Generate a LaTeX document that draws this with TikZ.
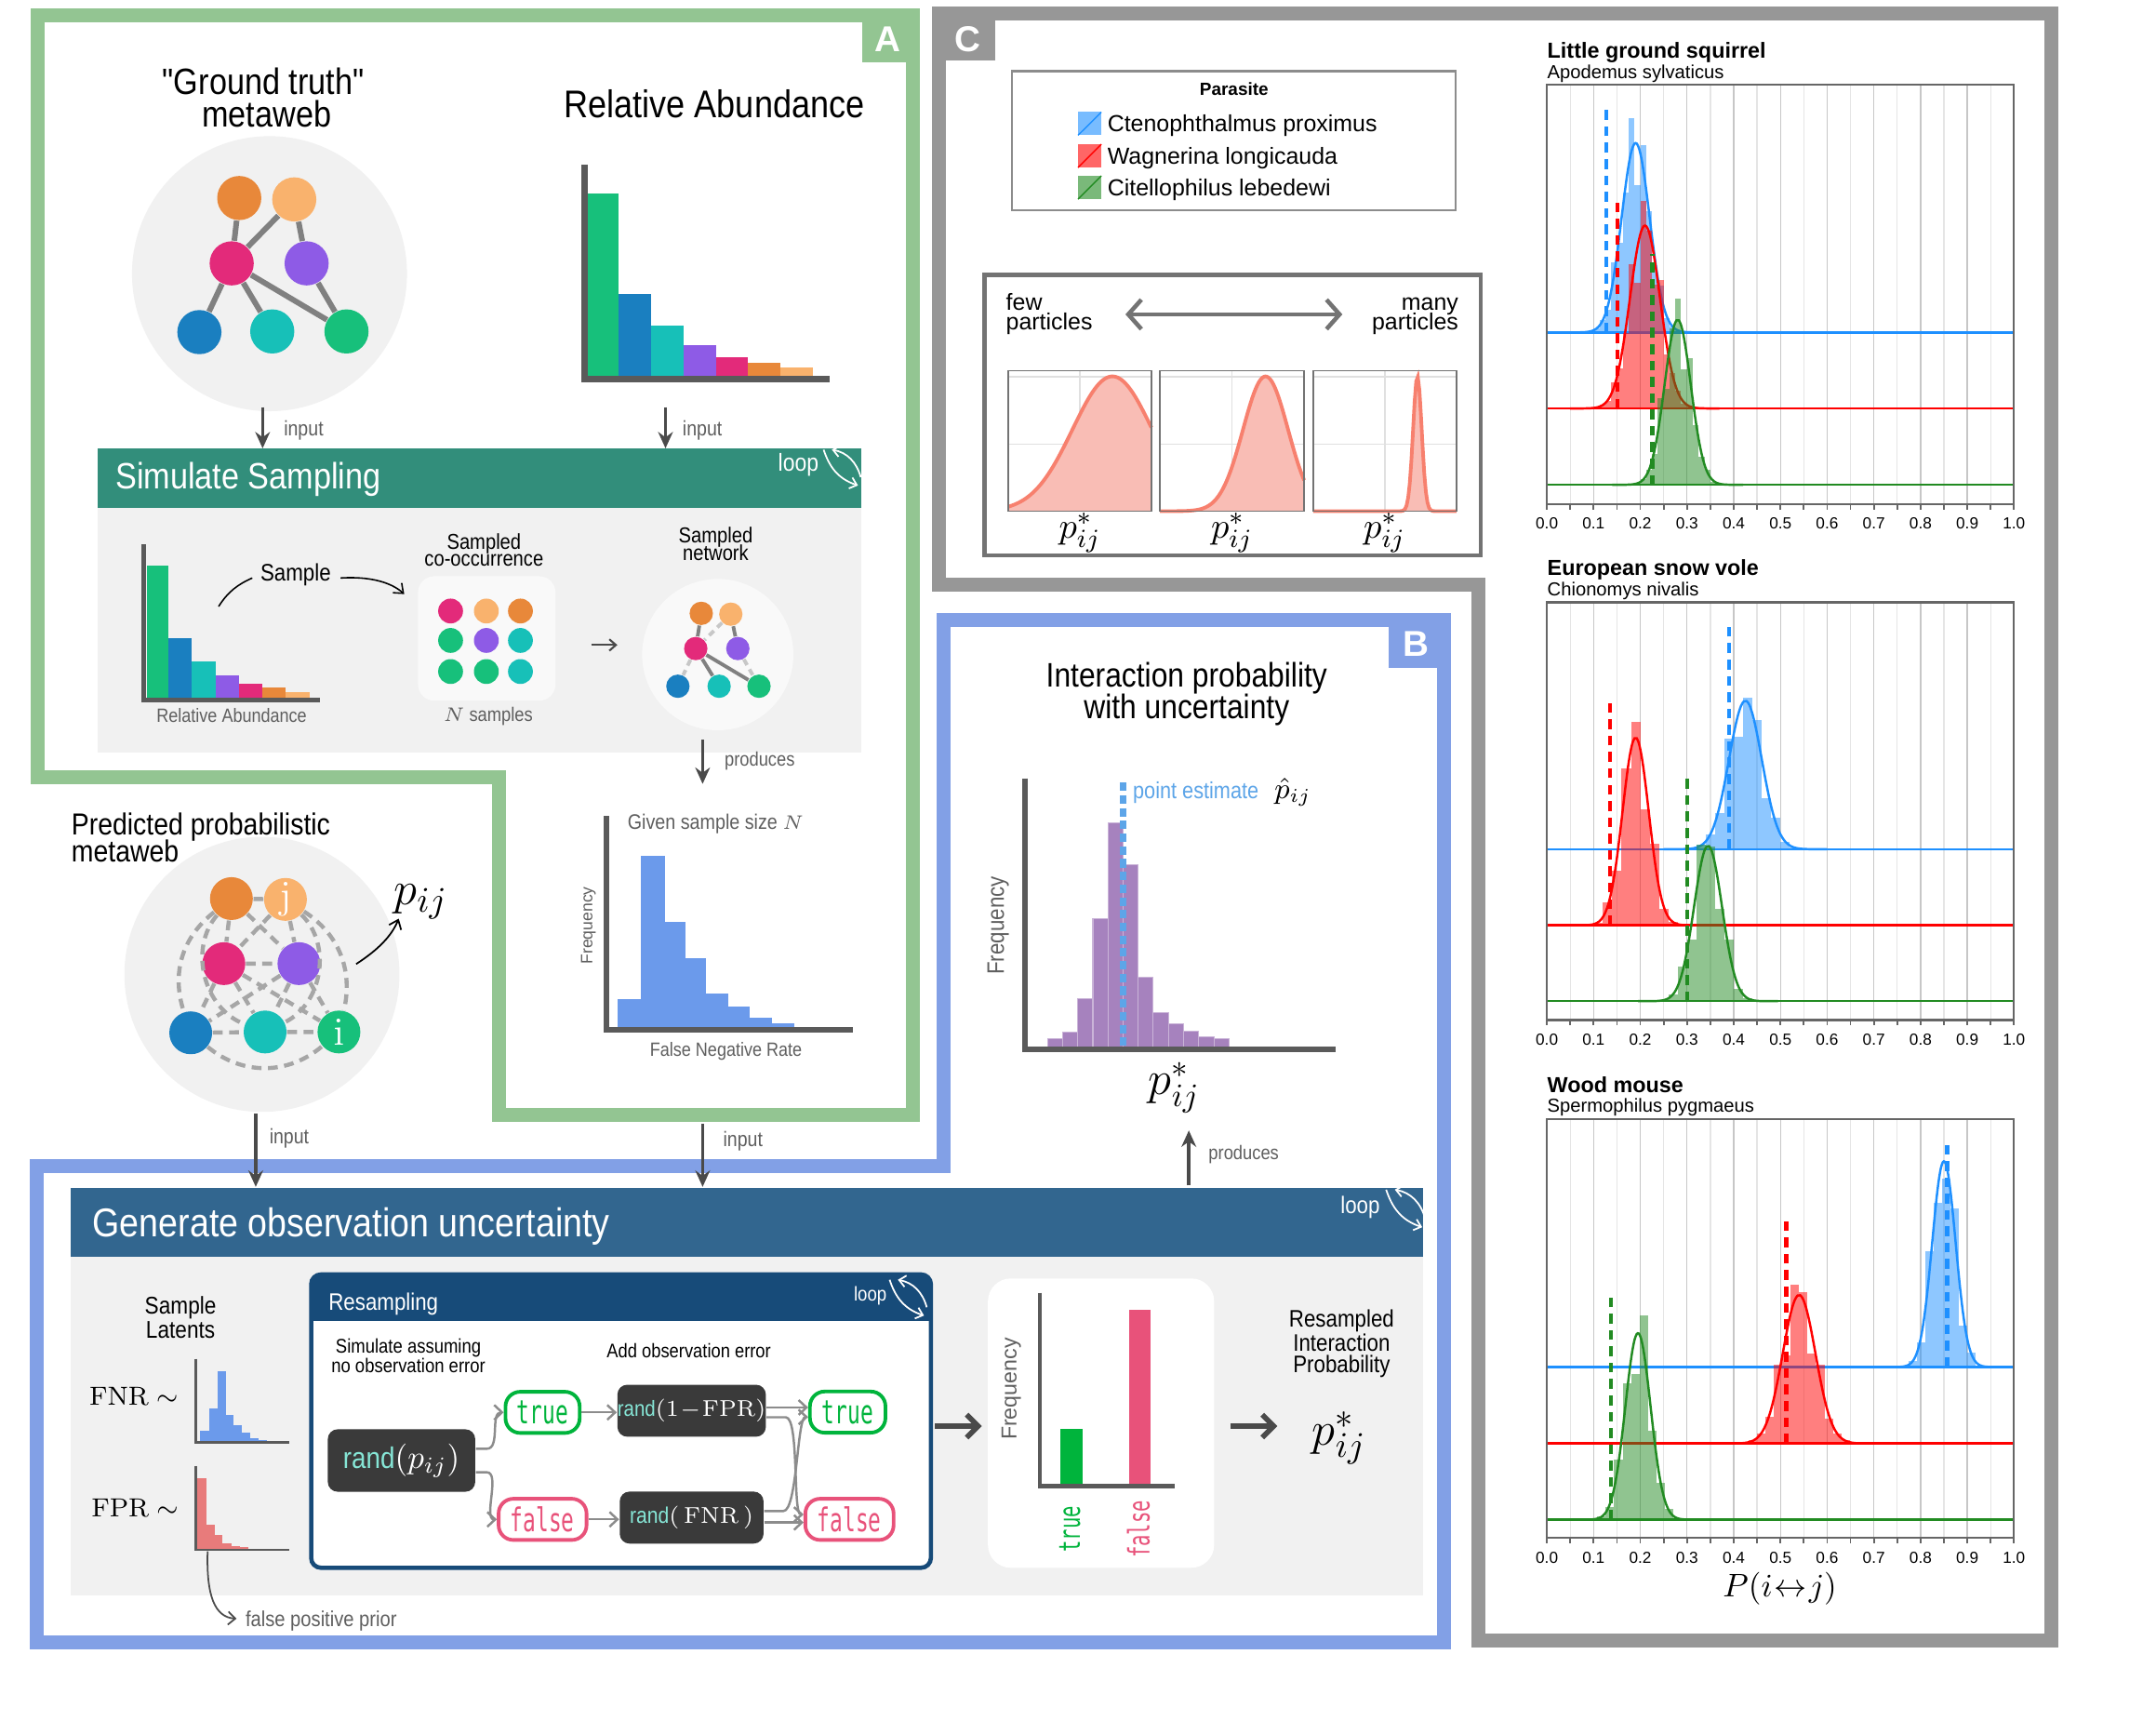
\documentclass[tikz,border=0pt]{standalone}
\usepackage[no-math]{fontspec}
\setmainfont{Liberation Sans}
\newfontfamily\cf[FakeStretch=0.87]{Liberation Sans}
\newfontfamily\hv{Liberation Sans}
\newfontfamily\mono[FakeStretch=0.65]{DejaVu Sans Mono}
\usetikzlibrary{arrows.meta}
\newcommand\fsz[1]{\fontsize{#1}{#1}\selectfont}
\definecolor{frA}{HTML}{93C592}
\definecolor{frB}{HTML}{82A0E6}
\definecolor{frC}{HTML}{979797}
\definecolor{simb}{HTML}{328E7B}
\definecolor{genb}{HTML}{32668F}
\definecolor{resb}{HTML}{174B79}
\definecolor{lg}{HTML}{F1F1F1}
\definecolor{lgw}{HTML}{F9F9F9}
\definecolor{axg}{HTML}{5A5A5A}
\definecolor{arg}{HTML}{4A4A4A}
\definecolor{txg}{HTML}{5F5F5F}
\definecolor{cOr}{HTML}{E8883A}
\definecolor{cLo}{HTML}{F9B26D}
\definecolor{cPk}{HTML}{E32A7A}
\definecolor{cPu}{HTML}{8E5BE6}
\definecolor{cBl}{HTML}{1A7FC0}
\definecolor{cTe}{HTML}{17C0B8}
\definecolor{cGr}{HTML}{17C07B}
\definecolor{hBlue}{HTML}{6B9AEB}
\definecolor{hRed}{HTML}{E87B7B}
\definecolor{hPur}{HTML}{A682BE}
\definecolor{ptB}{HTML}{5DA5E8}
\definecolor{tGr}{HTML}{00B43C}
\definecolor{tPk}{HTML}{E8527A}
\definecolor{mint}{HTML}{86E6D6}
\definecolor{dbox}{HTML}{3A3A3A}
\definecolor{lBlue}{HTML}{1E90FF}
\definecolor{lRed}{HTML}{FF0000}
\definecolor{lGreen}{HTML}{228B22}
\definecolor{sal}{HTML}{F7806E}
\definecolor{salf}{HTML}{F9BDB5}
\definecolor{edg}{HTML}{808080}
\definecolor{dsh}{HTML}{A6A6A6}
\def\px{1125}
\def\pw{339.7}
\def\rbw{0.0125}
\newcommand\loopsym[3]{%
  \begin{scope}[shift={(#1,#2)},scale=#3]
    \draw[white,line width=0.5pt,-{Straight Barb[length=2pt,width=3.5pt]}] (2,1) .. controls (6,13) and (12,22) .. (27,27);
    \draw[white,line width=0.5pt,-{Straight Barb[length=2pt,width=3.5pt]}] (29,21) .. controls (26,10) and (19,3) .. (8,1);
  \end{scope}}
\newcommand\ridge[7]{%
  \pgfmathtruncatemacro\kmin{floor((#2-3.5*#3)/\rbw)}%
  \pgfmathtruncatemacro\kmax{floor((#2+3.5*#3)/\rbw)}%
  \foreach \k in {\kmin,...,\kmax}{%
    \pgfmathsetmacro\rvv{#4*exp(0-0.5*(((\k+0.5)*\rbw-#2)/#3)^2)*(1+0.22*sin(\k*137.5))}%
    \fill[#5,fill opacity=0.5] ({\px+\k*\rbw*\pw},#1) rectangle ({\px+(\k+1)*\rbw*\pw},{#1-\rvv});
  }%
  \pgfmathsetmacro\rgA{max(0,#2-5*#3)}%
  \pgfmathsetmacro\rgB{min(1,#2+5*#3)}%
  \draw[#5,line width=0.7pt] (\px,#1) -- ({\px+\pw},#1);
  \draw[#5,line width=0.7pt] plot[domain=\rgA:\rgB,samples=60,smooth] ({\px+\x*\pw},{#1-#4*exp(0-0.5*((\x-#2)/#3)^2)});
  \draw[#5,line width=1.3pt,dash pattern=on 3pt off 2pt] ({\px+#6*\pw},#1) -- ({\px+#6*\pw},#7);
}
\newcommand\rgrid[2]{%
  \foreach \i in {1,...,19}{%
    \pgfmathtruncatemacro\gcol{mod(\i,2)==0 ? 22 : 10}%
    \draw[black!\gcol,line width=0.4pt] ({\px+\i*0.05*\pw},#1) -- ({\px+\i*0.05*\pw},#2);
  }}
\newcommand\raxis[4]{%
  \draw[black!60,line width=0.6pt] (\px,#1) rectangle ({\px+\pw},#2);
  \foreach \i in {0,...,20}{%
    \draw[black!60,line width=0.5pt] ({\px+\i*0.05*\pw},#2) -- ({\px+\i*0.05*\pw},{#2+4});
  }
  \foreach \i/\l in {0/0.0,1/0.1,2/0.2,3/0.3,4/0.4,5/0.5,6/0.6,7/0.7,8/0.8,9/0.9,10/1.0}{%
    \node[tb,font=\hv\fsz{4.9}] (#4\i) at ({\px+\i*0.1*\pw},#3) {\l};
  }}
\newcommand\cplot[4]{%
  \draw[black!12,line width=0.4pt] ({(#1+#2)/2},269.5) -- ({(#1+#2)/2},371.7) (#1,323) -- (#2,323) (#1,274) -- (#2,274);
  \fill[salf] (#1,371.7) -- plot[domain=0:1,samples=90] ({#1+\x*(#2-#1)},{371.7-98*exp(0-min(0.5*((\x-#3)/#4)^2,30))}) -- (#2,371.7) -- cycle;
  \draw[sal,line width=1.1pt] plot[domain=0:1,samples=90] ({#1+\x*(#2-#1)},{371.7-98*exp(0-min(0.5*((\x-#3)/#4)^2,30))});
  \draw[black!55,line width=0.5pt] (#1,269.5) rectangle (#2,371.7);}
\begin{document}
\begin{tikzpicture}[x=0.014783cm,y=-0.014783cm,
  tb/.style={anchor=base,inner sep=0pt,outer sep=0pt},
  tw/.style={anchor=base west,inner sep=0pt,outer sep=0pt},
  te/.style={anchor=base east,inner sep=0pt,outer sep=0pt},
  band/.style={line width=4.3pt,line join=miter},
  nd/.style={circle,inner sep=0pt,minimum size=#1},
  arr/.style={draw=arg,line width=1pt,-{Stealth[length=5pt,width=4.5pt]}},
  cn/.style={draw=black!45,line width=0.7pt,-{Straight Barb[length=2.4pt,width=4.5pt]}},
  gedge/.style={draw=edg,line width=1.7pt},
  sedge/.style={draw=edg,line width=1.1pt},
  sdash/.style={draw=black!22,line width=1.1pt,dash pattern=on 2pt off 1.5pt},
  pdash/.style={draw=dsh,line width=1.25pt,dash pattern=on 3pt off 2pt},
  lbl/.style={text=txg},
  dk/.style={fill=dbox,rounded corners=3pt,inner sep=0pt},
  tf/.style={fill=white,draw=#1,text=#1,line width=1.1pt,rounded corners=4.5pt,inner sep=0pt,minimum height=12.6pt,font=\mono\fsz{10}},
]
\useasboundingbox (0,0) rectangle (1568,1251);
\fill[white] (0,0) rectangle (1568,1251);

%% ---------- frames
\draw[frA,band] (27.5,11) -- (664,11) -- (664,811) -- (363,811) -- (363,565) -- (27.5,565) -- cycle;
\fill[frA] (627,11) rectangle (664,45);
\node[font=\hv\bfseries\fsz{11},text=white] (tabA) at (645.5,28.5) {A};
\draw[frB,band] (686,451) -- (1050,451) -- (1050,1194) -- (27,1194) -- (27,848) -- (686,848) -- cycle;
\fill[frB] (1010,451) rectangle (1050,486);
\node[font=\hv\bfseries\fsz{11},text=white] (tabB) at (1030,468.5) {B};
\draw[frC,band] (683,10) -- (1492,10) -- (1492,1193) -- (1075,1193) -- (1075,425) -- (683,425) -- cycle;
\fill[frC] (683,10) rectangle (724,44);
\node[font=\hv\bfseries\fsz{11},text=white] (tabC) at (704,28.5) {C};

%% ---------- Panel A : ground truth
\fill[lg] (196,199) circle[radius=100];
\node[tb,font=\cf\fsz{11.2}] (gtA) at (191.5,68.8) {"Ground truth"};
\node[tb,font=\cf\fsz{11.2}] (gtB) at (194,92) {metaweb};
\node[nd=13.5pt,fill=cOr] (g1) at (174,144) {};
\node[nd=13.5pt,fill=cLo] (g2) at (214,145) {};
\node[nd=13.5pt,fill=cPk] (g3) at (168.5,191.5) {};
\node[nd=13.5pt,fill=cPu] (g4) at (223,191.5) {};
\node[nd=13.5pt,fill=cBl] (g5) at (145,241.5) {};
\node[nd=13.5pt,fill=cTe] (g6) at (198,241) {};
\node[nd=13.5pt,fill=cGr] (g7) at (252,241) {};
\draw[gedge] (g1)--(g3) (g2)--(g3) (g2)--(g4) (g3)--(g5) (g3)--(g6) (g3)--(g7) (g4)--(g7);

%% relative abundance
\node[tb,font=\cf\fsz{11.8}] (raT) at (519.5,85.3) {Relative Abundance};
\foreach \a/\b/\h/\c in {427.6/450/141/cGr,450/473.6/214/cBl,473.6/497.3/237/cTe,497.3/521/251/cPu,521/544/260/cPk,544/567.7/264/cOr,567.7/591.3/267.5/cLo}
  \fill[\c] (\a,\h) rectangle (\b,274);
\draw[axg,line width=1.9pt] (425.3,119.6) -- (425.3,275.6) -- (603.5,275.6);

%% simulate sampling band
\fill[simb] (71,326) rectangle (626.5,369.5);
\fill[lg] (71,369.5) rectangle (626.5,547);
\node[tw,font=\cf\fsz{11.2},text=white] (ssT) at (84,355.5) {Simulate Sampling};
\node[tw,font=\cf\fsz{7.5},text=white] (ssL) at (566,342.8) {loop};
\loopsym{597}{326}{1}

\coordinate (i1a) at (191,296); \coordinate (i1b) at (191,326);
\draw[arr] (i1a) -- (i1b);
\node[tw,font=\cf\fsz{6.4},lbl] (i1l) at (206.5,317) {input};
\coordinate (i2a) at (484,296); \coordinate (i2b) at (484,326);
\draw[arr] (i2a) -- (i2b);
\node[tw,font=\cf\fsz{6.4},lbl] (i2l) at (496.5,317) {input};

\foreach \a/\b/\h/\c in {106.6/122.5/411/cGr,122.5/139.5/464/cBl,139.5/156.6/481/cTe,156.6/173.7/491/cPu,173.7/190.8/497.5/cPk,190.8/207.7/500/cOr,207.7/225/503/cLo}
  \fill[\c] (\a,\h) rectangle (\b,508);
\draw[axg,line width=1.3pt] (104.5,396) -- (104.5,509) -- (233,509);
\node[tb,font=\cf\fsz{5.9},lbl] (raS) at (168.5,525.5) {Relative Abundance};
\node[tb,font=\cf\fsz{7.3}] (smp) at (215,422.4) {Sample};
\coordinate (smpA) at (159,441);
\draw[black,line width=0.45pt] (smpA) .. controls (166,430) and (173,425) .. ([xshift=-2.5pt,yshift=-1pt]smp.west);
\coordinate (smpB) at (294,432);
\draw[black,line width=0.45pt,-{Straight Barb[length=2.5pt,width=4pt]}] ([xshift=3pt,yshift=-1pt]smp.east) .. controls (268,419) and (284,423) .. (smpB);

\node[tb,font=\cf\fsz{6.6}] (coT1) at (352,399.2) {Sampled};
\node[tb,font=\cf\fsz{6.6}] (coT2) at (352,411.6) {co-occurrence};
\fill[lgw,rounded corners=5pt] (304,419) rectangle (404,509.5);
\foreach \xx/\yy/\cc/\nn in {327.7/444.3/cPk/1,353.7/444.3/cLo/2,378.5/444.3/cOr/3,327.7/465.7/cGr/4,353.7/465.7/cPu/5,378.5/465.7/cTe/6,327.7/488.3/cGr/7,353.7/488.3/cGr/8,378.5/488.3/cTe/9}
  \node[nd=7.6pt,fill=\cc] (co\nn) at (\xx,\yy) {};
\node[tb,font=\cf\fsz{6},lbl] (nS) at (355,524.4) {$N$ samples};
\coordinate (m1) at (430,469); \coordinate (m2) at (449,469);
\draw[arg,line width=0.6pt,-{Straight Barb[length=2pt,width=3.5pt]}] (m1) -- (m2);

\node[tb,font=\cf\fsz{6.6}] (snT1) at (520.5,395) {Sampled};
\node[tb,font=\cf\fsz{6.6}] (snT2) at (520.5,407.8) {network};
\fill[lgw] (522,476) circle[radius=55];
\node[nd=7.15pt,fill=cOr] (s1) at (510,446) {};
\node[nd=7.15pt,fill=cLo] (s2) at (531.5,446.6) {};
\node[nd=7.15pt,fill=cPk] (s3) at (506,471.6) {};
\node[nd=7.15pt,fill=cPu] (s4) at (536.6,471.6) {};
\node[nd=7.15pt,fill=cBl] (s5) at (493,499) {};
\node[nd=7.15pt,fill=cTe] (s6) at (523,499) {};
\node[nd=7.15pt,fill=cGr] (s7) at (552,499) {};
\draw[sedge] (s1)--(s3) (s2)--(s4) (s3)--(s6) (s3)--(s7);
\draw[sdash] (s2)--(s3) (s3)--(s5) (s4)--(s7);

\coordinate (pr1a) at (511,538); \coordinate (pr1b) at (511,570);
\draw[arr] (pr1a) -- (pr1b);
\node[tw,font=\cf\fsz{6},lbl] (pr1l) at (527,557) {produces};

%% FNR histogram
\node[tb,font=\cf\fsz{6.45},lbl] (gss) at (520.5,603.3) {Given sample size $N$};
\foreach \a/\b/\h in {449/466/726.7,466/483.6/622,483.6/498.6/670.5,498.6/513.5/697,513.5/529.4/722.5,529.4/545.5/732,545.5/561.5/740,561.5/577.8/744.3}
  \fill[hBlue] (\a,\h) rectangle (\b,747.5);
\draw[axg,line width=1.8pt] (441,593.5) -- (441,749) -- (620,749);
\node[rotate=90,font=\hv\fsz{5},lbl] (fqA) at (428,673) {Frequency};
\node[tb,font=\cf\fsz{5.9},lbl] (fnrT) at (528,768) {False Negative Rate};

%% predicted metaweb
\fill[lg] (190.5,708.5) circle[radius=100];
\node[tw,font=\cf\fsz{9.3}] (pmA) at (52,607) {Predicted probabilistic};
\node[tw,font=\cf\fsz{9.3}] (pmB) at (52,626.5) {metaweb};
\node[nd=13.1pt,fill=cOr] (p1) at (168.3,653.4) {};
\node[nd=13.1pt,fill=cLo,text=white,font=\fsz{12}] (p2) at (207.6,654) {$\mathrm{j}$};
\node[nd=13.1pt,fill=cPk] (p3) at (162.8,700.7) {};
\node[nd=13.1pt,fill=cPu] (p4) at (217.4,700.7) {};
\node[nd=13.1pt,fill=cBl] (p5) at (138.7,751) {};
\node[nd=13.1pt,fill=cTe] (p6) at (192.8,750.4) {};
\node[nd=13.1pt,fill=cGr,text=white,font=\fsz{12}] (p7) at (246.5,750.4) {$\mathrm{i}$};
\draw[pdash] (p1)--(p2) (p1)--(p3) (p1)--(p4) (p2)--(p3) (p2)--(p4) (p3)--(p4) (p3)--(p6) (p3)--(p7) (p4)--(p5) (p4)--(p6) (p5)--(p6) (p6)--(p7) (p3)--(p5) (p4)--(p7);
\draw[pdash] (p1) to[bend right=35] (p5);
\draw[pdash] (p2) to[bend left=35] (p7);
\draw[pdash] (p5) to[bend right=40] (p7);
\draw[pdash] (p1) to[bend right=55] (p6);
\draw[pdash] (p2) to[bend left=55] (p6);
\node[tb,font=\fsz{15}] (pij) at (306,658) {$p_{ij}$};
\coordinate (pa) at (259,701); \coordinate (pb) at (290,668);
\draw[black,line width=0.5pt,-{Straight Barb[length=2.5pt,width=4pt]}] (pa) .. controls (276,690) and (285,680) .. (pb);

%% ---------- generate observation uncertainty
\fill[genb] (51.5,864) rectangle (1035,914);
\fill[lg] (51.5,914) rectangle (1035,1160);
\node[tw,font=\cf\fsz{12.3},text=white] (goT) at (67.4,899) {Generate observation uncertainty};
\node[tw,font=\cf\fsz{7.3},text=white] (goL) at (975,882.6) {loop};
\loopsym{1006}{864}{1.05}

\coordinate (i3a) at (186,810); \coordinate (i3b) at (186,863);
\draw[arr] (i3a)--(i3b);
\node[tw,font=\cf\fsz{6.4},lbl] (i3l) at (196,832) {input};
\coordinate (i4a) at (511,817); \coordinate (i4b) at (511,863);
\draw[arr] (i4a)--(i4b);
\node[tw,font=\cf\fsz{6.4},lbl] (i4l) at (526,834) {input};

\node[tb,font=\cf\fsz{7.4}] (slA) at (131.3,955.7) {Sample};
\node[tb,font=\cf\fsz{7.4}] (slB) at (131.3,972.9) {Latents};
\node[tw,font=\fsz{8.5}] (fnrL) at (65,1022) {$\mathrm{FNR}\sim$};
\node[tw,font=\fsz{8.5}] (fprL) at (66.5,1103) {$\mathrm{FPR}\sim$};
\foreach \a/\b/\h in {145.6/152/1040.6,152/158.4/1024,158.4/164.5/997,164.5/170/1028.8,170/176/1036.5,176/182/1042,182/188/1046,188/194/1047}
  \fill[hBlue] (\a,\h) rectangle (\b,1048.5);
\draw[axg,line width=0.8pt] (142.5,988) -- (142.5,1048.7) -- (210.5,1048.7);
\foreach \a/\b/\h in {143.5/150/1075,150/156/1108.5,156/162/1116,162/168.5/1122,168.5/174.6/1124,174.6/180.6/1125,180.6/186.7/1126}
  \fill[hRed] (\a,\h) rectangle (\b,1127);
\draw[axg,line width=0.8pt] (142.5,1066) -- (142.5,1127) -- (210.5,1127);
\coordinate (fpa) at (151,1128); \coordinate (fpb) at (172,1177);
\node[tw,font=\cf\fsz{6.6},lbl] (fpp) at (178.6,1183) {false positive prior};
\draw[arg,line width=0.5pt,-{Straight Barb[length=2.2pt,width=4pt]}] (fpa) .. controls (150,1160) and (156,1176) .. (fpb);

%% resampling box
\fill[white,rounded corners=3pt] (226.3,926.7) rectangle (677,1140);
\fill[resb,rounded corners=3pt] (226.3,926.7) rectangle (677,960.4);
\fill[resb] (226.3,950) rectangle (677,960.4);
\draw[resb,line width=1.3pt,rounded corners=3pt] (226.3,926.7) rectangle (677,1140);
\node[tw,font=\cf\fsz{7.3},text=white] (rsT) at (239,952.6) {Resampling};
\node[tw,font=\cf\fsz{6.1},text=white] (rsL) at (621,946.2) {loop};
\loopsym{645}{929.6}{1.0}
\node[tb,font=\cf\fsz{6.05}] (sa1) at (297,984) {Simulate assuming};
\node[tb,font=\cf\fsz{6.05}] (sa2) at (297,998) {no observation error};
\node[tb,font=\cf\fsz{6.0}] (aoe) at (501,987) {Add observation error};
\node[dk,minimum width=45.1pt,minimum height=19.1pt] (rp) at (292,1062) {{\cf\fsz{9.1}\color{mint}rand}{\color{white}\fsz{10}$(p_{ij})$}};
\node[dk,minimum width=44pt,minimum height=15.9pt] (r1) at (503,1025.8) {{\cf\fsz{6.7}\color{mint}rand}{\color{white}\fsz{6.9}$(1\!-\!\mathrm{FPR})$}};
\node[dk,minimum width=44pt,minimum height=15.9pt] (r2) at (503,1103.5) {{\cf\fsz{6.9}\color{mint}rand}{\color{white}\fsz{7.3}$(\,\mathrm{FNR}\,)$}};
\node[tf=tGr,minimum width=22.7pt] (t1) at (394.6,1027) {true};
\node[tf=tPk,minimum width=26.9pt] (f1) at (394.6,1104.8) {false};
\node[tf=tGr,minimum width=23.1pt] (t2) at (616.5,1026.8) {true};
\node[tf=tPk,minimum width=27pt] (f2) at (617.8,1104.8) {false};
\draw[cn] ([yshift=3.6pt]rp.east) -- ++(8,0) .. controls +(10,0) and +(-10,0) .. (t1.west);
\draw[cn] ([yshift=-3.6pt]rp.east) -- ++(8,0) .. controls +(10,0) and +(-10,0) .. (f1.west);
\draw[cn] (t1.east) -- (t1.east -| r1.west);
\draw[cn] (f1.east) -- (f1.east -| r2.west);
\draw[cn] ([yshift=1pt]r1.east) -- ([yshift=1pt]r1.east -| t2.west);
\draw[cn] ([yshift=-2pt]r1.east) -- ++(14,0) .. controls +(10,0) and +(-8,0) .. ([yshift=1.5pt]f2.west);
\draw[cn] ([yshift=2pt]r2.east) -- ++(14,0) .. controls +(10,0) and +(-8,0) .. ([yshift=-1.5pt]t2.west);
\draw[cn] ([yshift=-1.5pt]r2.east) -- ([yshift=-1.5pt]r2.east -| f2.west);

%% result histogram
\fill[white,rounded corners=7pt] (718.5,929.6) rectangle (883,1140);
\fill[tGr] (771,1039.3) rectangle (787.6,1079);
\fill[tPk] (821,952.6) rectangle (836.6,1079);
\draw[axg,line width=1.3pt] (756.3,940) -- (756.3,1080.5) -- (854.6,1080.5);
\node[rotate=90,font=\hv\fsz{6.6},lbl] (fqG) at (735.5,1010) {Frequency};
\node[rotate=90,font=\mono\fsz{9},text=tGr] (tr3) at (778,1112) {true};
\node[rotate=90,font=\mono\fsz{9},text=tPk] (fa3) at (828,1112) {false};
\coordinate (ba1) at (680,1037); \coordinate (ba2) at (714,1037);
\draw[arg,line width=1.6pt,-{Straight Barb[length=3.5pt,width=7pt]}] (ba1) -- (ba2);
\coordinate (ba3) at (895,1037); \coordinate (ba4) at (929,1037);
\draw[arg,line width=1.6pt,-{Straight Barb[length=3.5pt,width=7pt]}] (ba3) -- (ba4);
\node[tb,font=\cf\fsz{7.3}] (rs1) at (975.7,965) {Resampled};
\node[tb,font=\cf\fsz{7.3}] (rs2) at (975.7,982.3) {Interaction};
\node[tb,font=\cf\fsz{7.3}] (rs3) at (975.7,998) {Probability};
\node[tb,font=\fsz{15}] (pst) at (974,1051) {$p^*_{ij}$};

%% ---------- Panel B
\node[tb,font=\cf\fsz{10.4}] (bT1) at (863,499.5) {Interaction probability};
\node[tb,font=\cf\fsz{10.4}] (bT2) at (863,522.5) {with uncertainty};
\foreach \a/\b/\h in {762/772.6/755.5,772.6/783.6/750.6,783.6/794.8/726.4,794.8/805.8/668,805.8/817/598.3,817/827.7/628.8,827.7/838.7/710.4,838.7/849.7/736.4,849.7/860.6/744.6,860.6/871.7/749.8,871.7/883/753.7,883/894.2/755.5}
  \fill[hPur,draw=hPur!60!white,line width=0.3pt] (\a,\h) rectangle (\b,761.5);
\draw[axg,line width=1.8pt] (745.6,566) -- (745.6,763) -- (971.6,763);
\coordinate (pe1) at (816.7,569); \coordinate (pe2) at (816.7,760);
\draw[ptB,line width=2pt,dash pattern=on 2.6pt off 1.3pt] (pe1)--(pe2);
\node[tw,font=\cf\fsz{7.1},text=ptB] (peL) at (824,581) {point estimate};
\node[tw,font=\fsz{9}] (peH) at (927,581) {$\hat p_{ij}$};
\node[rotate=90,font=\cf\fsz{7.3},lbl] (fqB) at (726,673) {Frequency};
\node[tb,font=\fsz{14}] (bps) at (854,796) {$p^*_{ij}$};
\coordinate (pr2a) at (864.6,862); \coordinate (pr2b) at (864.6,822);
\draw[arr] (pr2a) -- (pr2b);
\node[tw,font=\cf\fsz{6},lbl] (pr2l) at (879,843) {produces};

%% ---------- Panel C
\draw[black!45,line width=0.7pt] (736,51.6) rectangle (1058.5,153);
\node[tb,font=\hv\bfseries\fsz{5.4}] (par) at (897.5,69) {Parasite};
\foreach \yy/\cc in {81.5/lBlue,104.9/lRed,127.9/lGreen}{
  \fill[\cc,fill opacity=0.6] (784,\yy) rectangle (801,\yy+16.9);
  \draw[\cc,line width=0.4pt] (784,\yy+16.9) -- (801,\yy);
}
\node[tw,font=\hv\fsz{7.1}] (lg1) at (805.5,96) {Ctenophthalmus proximus};
\node[tw,font=\hv\fsz{7.1}] (lg2) at (805.5,119.3) {Wagnerina longicauda};
\node[tw,font=\hv\fsz{7.1}] (lg3) at (805.5,142.2) {Citellophilus lebedewi};

\draw[black!55,line width=1.3pt] (716,200) rectangle (1077,403.8);
\node[tw,font=\hv\fsz{7.1}] (fw1) at (731.7,225.3) {few};
\node[tw,font=\hv\fsz{7.1}] (fw2) at (731.7,239.5) {particles};
\node[te,font=\hv\fsz{7.1}] (mn1) at (1060.6,225.3) {many};
\node[te,font=\hv\fsz{7.1}] (mn2) at (1060.6,239.5) {particles};
\coordinate (da1) at (818.5,228.6); \coordinate (da2) at (976.3,228.6);
\draw[black!55,line width=1.3pt,{Straight Barb[length=4pt,width=9pt]}-{Straight Barb[length=4pt,width=9pt]}] (da1) -- (da2);
\cplot{733.4}{837.4}{0.727}{0.279}
\cplot{843.6}{948.5}{0.732}{0.156}
\cplot{955}{1059.3}{0.727}{0.03}
\node[tb,font=\fsz{11}] (cp1) at (785.4,391) {$p^*_{ij}$};
\node[tb,font=\fsz{11}] (cp2) at (896,391) {$p^*_{ij}$};
\node[tb,font=\fsz{11}] (cp3) at (1007,391) {$p^*_{ij}$};

%% ridge plots
\node[tw,font=\hv\bfseries\fsz{6.65}] (rt1) at (1125.4,42.6) {Little ground squirrel};
\node[tw,font=\hv\fsz{5.75}] (rs1s) at (1125.4,57.1) {Apodemus sylvaticus};
\rgrid{61.5}{366.4}
\def\rbw{0.0125}
\ridge{241.7}{0.19}{0.03}{137.7}{lBlue}{0.127}{76.6}
\ridge{297}{0.21}{0.032}{133}{lRed}{0.151}{145.6}
\ridge{352.5}{0.28}{0.028}{120}{lGreen}{0.226}{185}
\raxis{61.5}{366.4}{384.3}{axa}

\node[tw,font=\hv\bfseries\fsz{6.65}] (rt2) at (1125.4,418.7) {European snow vole};
\node[tw,font=\hv\fsz{5.75}] (rs2s) at (1125.4,433.2) {Chionomys nivalis};
\rgrid{438}{741.7}
\def\rbw{0.02}
\ridge{617.5}{0.425}{0.035}{108}{lBlue}{0.39}{455}
\ridge{672.8}{0.19}{0.028}{136.4}{lRed}{0.135}{510}
\ridge{728}{0.345}{0.03}{113}{lGreen}{0.30}{565}
\raxis{438}{741.7}{760}{axb}

\node[tw,font=\hv\bfseries\fsz{6.65}] (rt3) at (1125.4,794.6) {Wood mouse};
\node[tw,font=\hv\fsz{5.75}] (rs3s) at (1125.4,809) {Spermophilus pygmaeus};
\rgrid{813.5}{1118.3}
\def\rbw{0.018}
\ridge{994}{0.85}{0.025}{149.6}{lBlue}{0.857}{831.4}
\ridge{1049.6}{0.54}{0.035}{108}{lRed}{0.513}{886.3}
\ridge{1105}{0.195}{0.027}{135.6}{lGreen}{0.137}{941.7}
\raxis{813.5}{1118.3}{1137}{axc}
\node[tb,font=\fsz{10}] (pij2) at (1294.5,1161) {$P(i\mkern1mu{\leftrightarrow}\mkern1mu j)$};
\end{tikzpicture}
\end{document}
